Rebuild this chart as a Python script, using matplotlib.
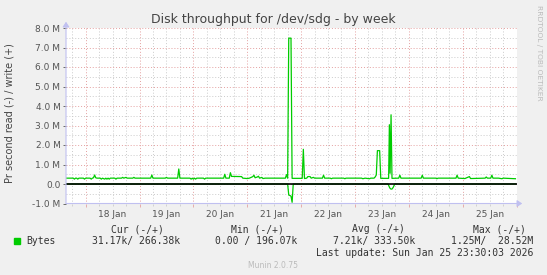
import matplotlib
matplotlib.use("Agg")
import matplotlib.pyplot as plt
import matplotlib.dates as mdates
from matplotlib.ticker import MultipleLocator, FuncFormatter, NullFormatter
import pandas as pd

# ---------------- data (values in MB/s) ----------------
write_times = [
    "01-17 15:15", "01-17 18:30", "01-17 19:00", "01-17 19:30", "01-17 20:00", "01-17 20:30",
    "01-17 21:00", "01-17 23:00", "01-17 23:30", "01-18 00:00", "01-18 02:00", "01-18 02:30",
    "01-18 03:00", "01-18 03:30", "01-18 04:00", "01-18 04:30", "01-18 05:00", "01-18 06:30",
    "01-18 07:00", "01-18 07:30", "01-18 08:30", "01-18 09:00", "01-18 09:30", "01-18 10:00",
    "01-18 10:30", "01-18 11:00", "01-18 13:00", "01-18 13:30", "01-18 14:00", "01-18 16:00",
    "01-18 16:30", "01-18 17:00", "01-18 18:00", "01-18 18:30", "01-18 21:00", "01-18 21:30",
    "01-18 22:00", "01-19 05:00", "01-19 05:30", "01-19 06:00", "01-19 11:30", "01-19 12:00",
    "01-19 12:30", "01-19 17:00", "01-19 17:30", "01-19 18:00", "01-19 22:30", "01-19 23:00",
    "01-19 23:30", "01-20 00:00", "01-20 00:30", "01-20 01:00", "01-20 01:30", "01-20 04:30",
    "01-20 05:00", "01-20 05:30", "01-20 13:30", "01-20 14:00", "01-20 14:30", "01-20 16:00",
    "01-20 16:30", "01-20 17:00", "01-20 21:30", "01-20 22:00", "01-21 00:00", "01-21 01:00",
    "01-21 02:30", "01-21 03:00", "01-21 03:30", "01-21 04:30", "01-21 05:00", "01-21 05:30",
    "01-21 06:30", "01-21 07:00", "01-21 08:00", "01-21 17:00", "01-21 17:30", "01-21 18:00",
    "01-21 18:30", "01-21 19:30", "01-21 20:00", "01-22 00:30", "01-22 01:00", "01-22 01:30",
    "01-22 02:30", "01-22 03:00", "01-22 04:00", "01-22 04:30", "01-22 05:30", "01-22 06:00",
    "01-22 09:30", "01-22 10:00", "01-22 10:30", "01-22 13:00", "01-22 13:30", "01-22 14:00",
    "01-22 19:00", "01-22 19:30", "01-22 20:00", "01-23 03:00", "01-23 03:30", "01-23 04:30",
    "01-23 06:30", "01-23 07:00", "01-23 08:30", "01-23 09:00", "01-23 09:30", "01-23 10:00",
    "01-23 11:00", "01-23 11:30", "01-23 15:00", "01-23 15:20", "01-23 15:40", "01-23 16:05",
    "01-23 16:30", "01-23 19:30", "01-23 20:00", "01-23 20:30", "01-24 05:30", "01-24 06:00",
    "01-24 06:30", "01-24 12:00", "01-24 12:30", "01-24 13:00", "01-24 21:00", "01-24 21:30",
    "01-24 22:00", "01-25 01:00", "01-25 03:00", "01-25 03:30", "01-25 10:00", "01-25 10:30",
    "01-25 11:00", "01-25 12:30", "01-25 13:00", "01-25 13:30", "01-25 16:00", "01-25 17:30",
    "01-25 18:00", "01-25 23:30",
]
write_mb = [
    0.30, 0.30, 0.25, 0.30, 0.30, 0.25,
    0.30, 0.30, 0.25, 0.30, 0.30, 0.25,
    0.30, 0.32, 0.46, 0.32, 0.30, 0.30,
    0.25, 0.30, 0.25, 0.30, 0.25, 0.30,
    0.25, 0.30, 0.30, 0.25, 0.30, 0.30,
    0.34, 0.30, 0.34, 0.30, 0.30, 0.34,
    0.30, 0.30, 0.46, 0.30, 0.30, 0.34,
    0.30, 0.30, 0.77, 0.30, 0.30, 0.25,
    0.30, 0.25, 0.30, 0.25, 0.30, 0.30,
    0.25, 0.30, 0.30, 0.50, 0.30, 0.30,
    0.58, 0.39, 0.38, 0.30, 0.28, 0.30,
    0.38, 0.45, 0.32, 0.36, 0.40, 0.30,
    0.34, 0.28, 0.30, 0.30, 0.48, 0.30,
    7.48, 7.48, 0.29, 0.29, 1.78, 0.28,
    0.30, 0.38, 0.38, 0.30, 0.34, 0.30,
    0.30, 0.45, 0.30, 0.30, 0.27, 0.30,
    0.30, 0.27, 0.30, 0.30, 0.27, 0.30,
    0.27, 0.30, 0.30, 0.36, 0.46, 1.71,
    1.71, 0.29, 0.29, 3.04, 0.55, 3.55,
    0.29, 0.30, 0.45, 0.30, 0.30, 0.45,
    0.30, 0.30, 0.27, 0.30, 0.30, 0.45,
    0.30, 0.28, 0.38, 0.28, 0.30, 0.36,
    0.30, 0.30, 0.45, 0.30, 0.30, 0.27,
    0.30, 0.27,
]

read_times = [
    "01-17 15:15", "01-21 18:00", "01-21 18:30", "01-21 19:30", "01-21 20:00", "01-21 20:30",
    "01-23 14:45", "01-23 15:30", "01-23 16:00", "01-23 16:30", "01-23 17:00", "01-23 17:45",
    "01-25 23:30",
]
read_mb = [
    0.0, 0.0, -0.56, -0.62, -0.94, 0.0,
    0.0, -0.20, -0.26, -0.26, -0.18, 0.0,
    0.0,
]

y_ticks = [-1, 0, 1, 2, 3, 4, 5, 6, 7, 8]
legend_headers = ["Cur (-/+)", "Min (-/+)", "Avg (-/+)", "Max (-/+)"]
legend_values = ["31.17k/ 266.38k", "0.00 / 196.07k", "7.21k/ 333.50k", "1.25M/  28.52M"]
series_name = "Bytes"
title = "Disk throughput for /dev/sdg - by week"
ylabel = "Pr second read (-) / write (+)"
last_update = "Last update: Sun Jan 25 23:30:03 2026"

# ---------------- figure ----------------
W, H = 547, 275
BG = "#F0F0F0"
GREEN = "#00CC00"
fig = plt.figure(figsize=(W / 100, H / 100), dpi=100, facecolor=BG)


def fx(px):
    return px / W


def fy(py):
    return 1 - py / H


left, right, top, bottom = 66, 517, 28, 203.5
ax = fig.add_axes([fx(left), fy(bottom), fx(right - left), (bottom - top) / H])
ax.set_facecolor("white")

wt = pd.to_datetime(["2026-" + t for t in write_times], format="%Y-%m-%d %H:%M")
rt = pd.to_datetime(["2026-" + t for t in read_times], format="%Y-%m-%d %H:%M")

ax.plot(wt, write_mb, color=GREEN, lw=0.9, zorder=4)
ax.plot(rt, read_mb, color=GREEN, lw=0.9, zorder=4)
ax.axhline(0, color="black", lw=1.2, zorder=5)

x0 = pd.Timestamp("2026-01-17 15:15")
x1 = pd.Timestamp("2026-01-26 00:12")
ax.set_xlim(x0, x1)
ax.set_ylim(-1, 8)

# y axis ticks / grid
ax.yaxis.set_major_locator(MultipleLocator(1))
ax.yaxis.set_minor_locator(MultipleLocator(0.5))
ax.set_yticks(y_ticks)


def yfmt(v, pos):
    if abs(v) < 1e-9:
        return "0.0"
    return f"{v:.1f} M"


ax.yaxis.set_major_formatter(FuncFormatter(yfmt))
ax.yaxis.set_minor_formatter(NullFormatter())

# x axis ticks / grid
ax.xaxis.set_major_locator(mdates.DayLocator())
ax.xaxis.set_minor_locator(mdates.HourLocator(byhour=[6, 12, 18]))
ax.xaxis.set_major_formatter(NullFormatter())


def xminor(v, pos):
    d = mdates.num2date(v)
    if d.hour == 12:
        return f"{d.day} Jan"
    return ""


ax.xaxis.set_minor_formatter(FuncFormatter(xminor))

ax.grid(which="major", color="#E4A0A0", ls=(0, (1, 2)), lw=0.7, zorder=1)
ax.grid(which="minor", color="#CBCBCB", ls=(0, (1, 2)), lw=0.7, zorder=1)

ax.tick_params(axis="y", which="major", labelsize=6.5, colors="#555555", length=2, width=0.6, pad=2)
ax.tick_params(axis="y", which="minor", length=0)
ax.tick_params(axis="x", which="major", length=2, color="#E4A0A0", width=0.6)
ax.tick_params(axis="x", which="minor", labelsize=6.5, labelcolor="#555555", length=1.5, color="#CBCBCB", pad=3)
for lab in ax.get_yticklabels():
    lab.set_color("#555555")

for s in ax.spines.values():
    s.set_visible(False)

# axis arrows (rrdtool style)
AX = "#C0C0F0"
fig.add_artist(matplotlib.patches.FancyArrowPatch(
    (fx(left), fy(bottom + 2)), (fx(left), fy(top - 9)), transform=fig.transFigure,
    arrowstyle="-|>,head_length=3,head_width=2", color=AX, lw=0.8, mutation_scale=1))
fig.add_artist(matplotlib.patches.FancyArrowPatch(
    (fx(left - 3), fy(bottom)), (fx(right + 8), fy(bottom)), transform=fig.transFigure,
    arrowstyle="-|>,head_length=3,head_width=2", color=AX, lw=0.8, mutation_scale=1))

# texts
fig.text(fx(273), fy(19), title, ha="center", va="center", fontsize=9, color="#444444")
fig.text(fx(10), fy(113), ylabel, ha="center", va="center", rotation=90, fontsize=7, color="#444444")
fig.text(fx(539), fy(5), "RRDTOOL / TOBI OETIKER", ha="center", va="top", rotation=-90,
         fontsize=5.4, color="#BBBBBB")

mono = "DejaVu Sans Mono"
hdr_right = [164, 284, 405, 526]
val_right = [180, 297, 415, 533]
for h, xr in zip(legend_headers, hdr_right):
    fig.text(fx(xr), fy(229), h, ha="right", va="center", fontsize=7, family=mono, color="#333333")
for v, xr in zip(legend_values, val_right):
    fig.text(fx(xr), fy(241), v, ha="right", va="center", fontsize=7, family=mono, color="#333333")
fig.add_artist(matplotlib.patches.Rectangle((fx(14), fy(244)), fx(5.5), 6.5 / H,
                                            transform=fig.transFigure, color=GREEN))
fig.text(fx(26), fy(241), series_name, ha="left", va="center", fontsize=7, family=mono, color="#333333")
fig.text(fx(533), fy(253.5), last_update, ha="right", va="center", fontsize=7, family=mono, color="#333333")
fig.text(fx(273), fy(266), "Munin 2.0.75", ha="center", va="center", fontsize=5.5, color="#BBBBBB")

fig.savefig("out.png", dpi=100, facecolor=BG)
